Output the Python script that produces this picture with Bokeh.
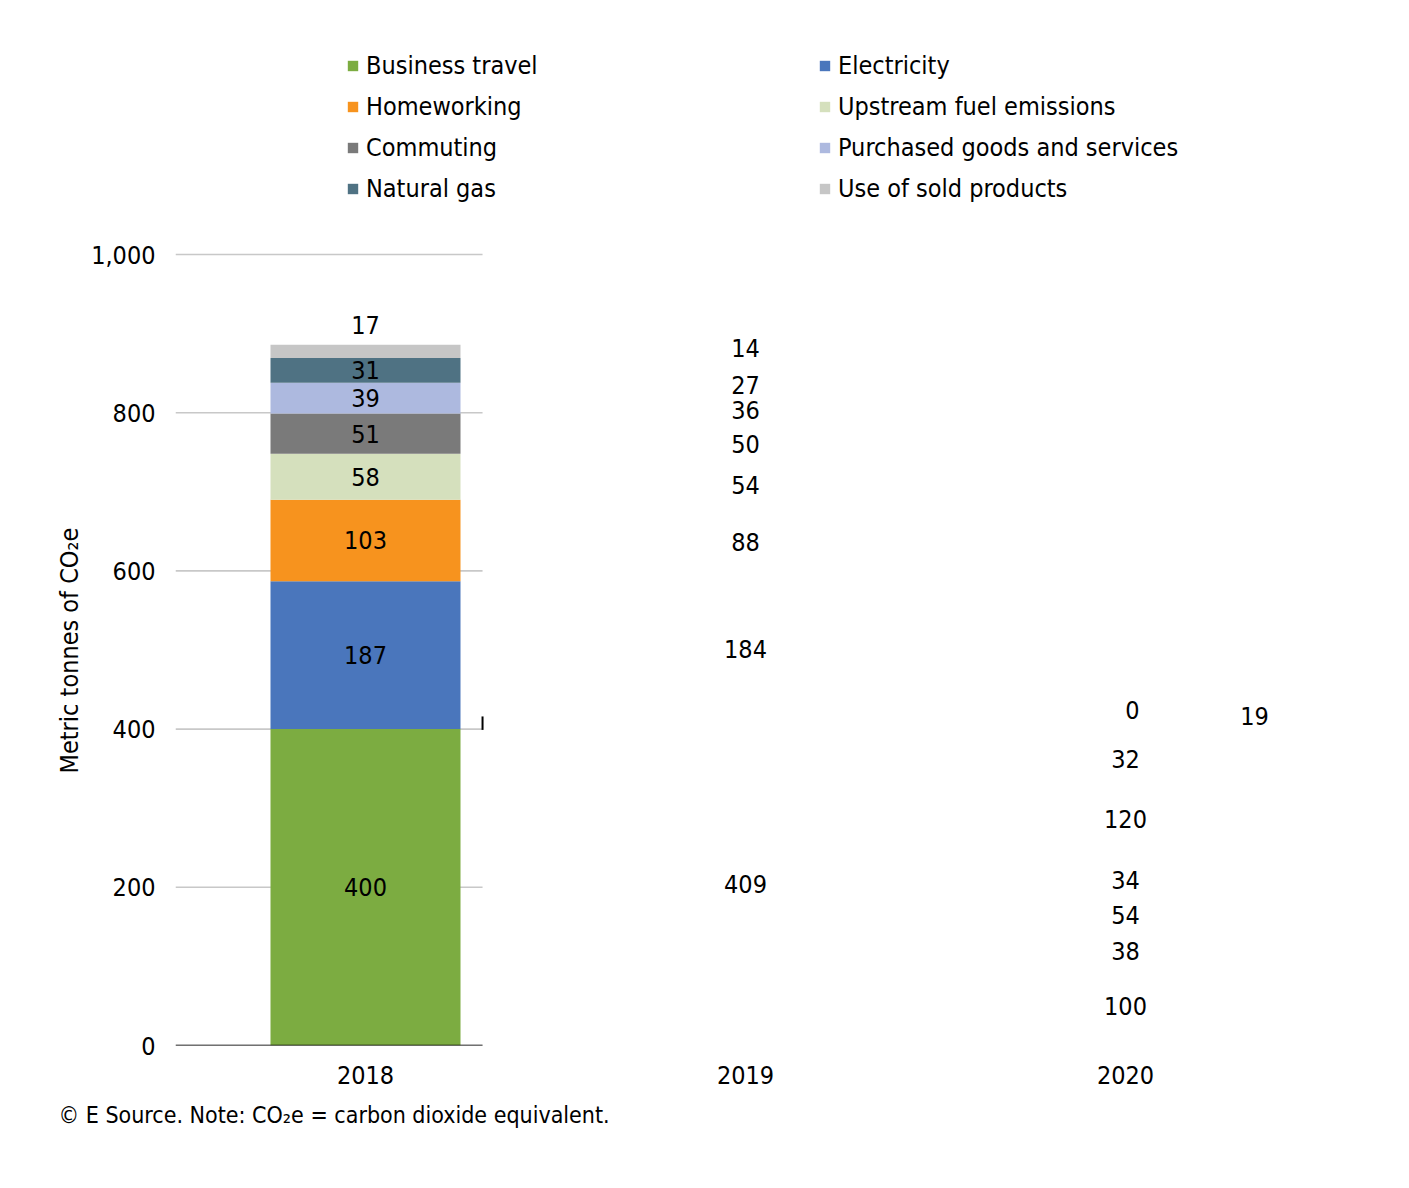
from bokeh.plotting import figure
from bokeh.models import (Range1d, FixedTicker, NumeralTickFormatter, ColumnDataSource,
                          Legend, LegendItem, Title)
from bokeh.core.properties import value
from bokeh.embed import file_html
from bokeh.resources import INLINE
import numpy as np

# ---------------- data ----------------
years = ["2018", "2019", "2020"]
series = ["Business travel", "Electricity", "Homeworking", "Upstream fuel emissions",
          "Commuting", "Purchased goods and services", "Natural gas", "Use of sold products"]
business_travel = [400, 409, 100]
electricity = [187, 184, 38]
homeworking = [103, 88, 54]
upstream_fuel = [58, 54, 34]
commuting = [51, 50, 120]
purchased_goods = [39, 36, 32]
natural_gas = [31, 27, 0]
use_of_sold = [17, 14, 19]
y_ticks = [0, 200, 400, 600, 800, 1000]

values = [business_travel, electricity, homeworking, upstream_fuel,
          commuting, purchased_goods, natural_gas, use_of_sold]
colors = ["#7cac41", "#4a76bc", "#f7931e", "#d5e0bd",
          "#7a7a7a", "#adb9df", "#4f7283", "#c6c6c6"]

FONT = "DejaVu Sans Condensed"
FS = "25px"

# bars are only drawn for the first year (as in the reference)
bars_drawn = 1
grid_end = 0.308  # grid / axis line drawn only part-way across

p = figure(width=1401, height=1180, output_backend="svg", toolbar_location=None,
           x_range=Range1d(-0.5, 2.5), y_range=Range1d(0, 1311),
           min_border_left=175, min_border_right=86, min_border_top=8, min_border_bottom=135)
p.outline_line_color = None
p.xgrid.visible = False
p.ygrid.visible = False
p.background_fill_color = "white"

# manual grid lines
p.segment(x0=[-0.5] * len(y_ticks), x1=[grid_end] * len(y_ticks), y0=y_ticks, y1=y_ticks,
          line_color="#c8c8c8", line_width=1.6)

vals = np.array(values, dtype=float)
bottoms = np.vstack([np.zeros(vals.shape[1]), np.cumsum(vals, axis=0)[:-1]])
tops = bottoms + vals
xs = np.arange(len(years))

renderers = []
for i, name in enumerate(series):
    src = ColumnDataSource(dict(x=xs[:bars_drawn], top=tops[i][:bars_drawn],
                                bottom=bottoms[i][:bars_drawn]))
    r = p.vbar(x="x", top="top", bottom="bottom", width=0.5, source=src,
               fill_color=colors[i], line_color=None)
    renderers.append(r)

# axis line (partial) and stray tick
p.segment(x0=[-0.5], x1=[grid_end], y0=[0], y1=[0], line_color="black", line_width=1.6)
p.segment(x0=[grid_end], x1=[grid_end], y0=[399], y1=[416], line_color="black", line_width=2)

# data labels
lx, ly, lt, lxo, lyo = [], [], [], [], []
top_offsets = {0: (0, -20), 1: (0, -16), 2: (129, -15)}
for i in range(len(series)):
    for j in range(len(years)):
        v = vals[i][j]
        if i == len(series) - 1:
            lx.append(xs[j]); ly.append(tops[i][j]); lt.append(str(int(v)))
            lxo.append(top_offsets[j][0]); lyo.append(top_offsets[j][1])
        elif v == 0:
            lx.append(xs[j]); ly.append(bottoms[i][j]); lt.append(str(int(v)))
            lxo.append(7); lyo.append(-37)
        else:
            lx.append(xs[j]); ly.append(bottoms[i][j] + v / 2); lt.append(str(int(v)))
            lxo.append(0); lyo.append(0)
lsrc = ColumnDataSource(dict(x=lx, y=ly, text=lt, xo=lxo, yo=lyo))
p.text(x="x", y="y", text="text", x_offset="xo", y_offset="yo", source=lsrc,
       text_font=value(FONT), text_font_size=value(FS), text_color="black",
       text_align="center", text_baseline="middle")

# axes
p.yaxis.ticker = FixedTicker(ticks=y_ticks)
p.yaxis.formatter = NumeralTickFormatter(format="0,0")
p.yaxis.axis_line_color = None
p.yaxis.major_tick_line_color = None
p.yaxis.minor_tick_line_color = None
p.yaxis.major_tick_out = 0
p.yaxis.major_tick_in = 0
p.yaxis.major_label_standoff = 20
p.yaxis.major_label_text_font = FONT
p.yaxis.major_label_text_font_size = FS
p.yaxis.major_label_text_color = "black"

p.xaxis.ticker = FixedTicker(ticks=list(xs))
p.xaxis.major_label_overrides = {int(k): y for k, y in zip(xs, years)}
p.xaxis.axis_line_color = None
p.xaxis.major_tick_line_color = None
p.xaxis.minor_tick_line_color = None
p.xaxis.major_tick_out = 0
p.xaxis.major_tick_in = 0
p.xaxis.major_label_standoff = 20
p.xaxis.major_label_text_font = FONT
p.xaxis.major_label_text_font_size = FS
p.xaxis.major_label_text_color = "black"

# y-axis title (centred on the 0-1,000 span, not on the whole frame)
ytitle = Title(text="Metric tonnes of CO\u2082e", align="left", offset=272, standoff=10,
               text_font=FONT, text_font_size=FS, text_font_style="normal",
               text_color="black")
p.add_layout(ytitle, "left")

# legend: two columns
order = [0, 2, 4, 6, 1, 3, 5, 7]
items = [LegendItem(label=series[i], renderers=[renderers[i]]) for i in order]
legend = Legend(items=items, location=(171, 842), orientation="vertical", ncols=2,
                glyph_width=13, glyph_height=13, label_standoff=7, label_width=441,
                label_height=30, spacing=11, padding=0, margin=0,
                border_line_color=None, background_fill_alpha=0,
                label_text_font=FONT, label_text_font_size=FS, label_text_color="black")
p.add_layout(legend)

# footnote
note = Title(text="\u00a9 E Source. Note:  CO\u2082e = carbon dioxide equivalent.", align="left",
             offset=-117, standoff=27, text_font=FONT, text_font_size="23px",
             text_font_style="normal", text_color="black")
p.add_layout(note, "below")

open("out.html", "w").write(file_html(p, INLINE))
